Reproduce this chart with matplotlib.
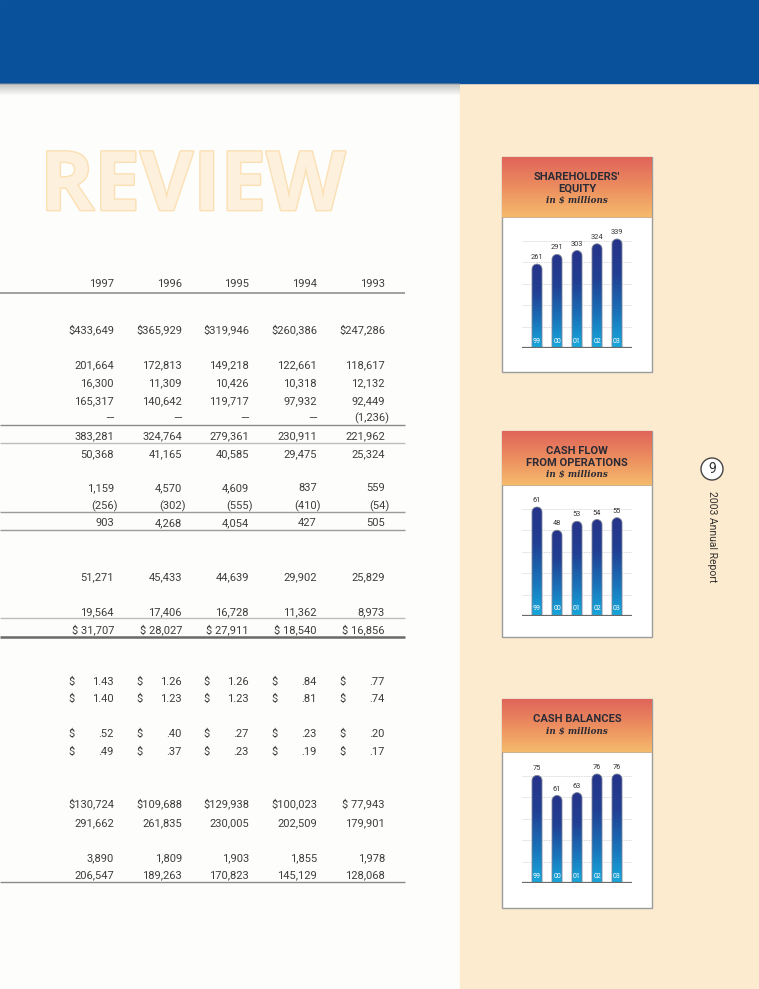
import numpy as np
import matplotlib.pyplot as plt
from matplotlib.patches import Rectangle, Circle, Polygon
from matplotlib.colors import LinearSegmentedColormap
import matplotlib.patheffects as pe

W, H = 759, 989

# table data (thousands, per-share in dollars)
years = ['1997', '1996', '1995', '1994', '1993']
net_sales = [433649, 365929, 319946, 260386, 247286]
cost_of_sales = [201664, 172813, 149218, 122661, 118617]
research = [16300, 11309, 10426, 10318, 12132]
selling_admin = [165317, 140642, 119717, 97932, 92449]
other_charges = [None, None, None, None, -1236]
total_costs = [383281, 324764, 279361, 230911, 221962]
operating_income = [50368, 41165, 40585, 29475, 25324]
interest_income = [1159, 4570, 4609, 837, 559]
interest_expense = [-256, -302, -555, -410, -54]
other_net = [903, 4268, 4054, 427, 505]
pretax_income = [51271, 45433, 44639, 29902, 25829]
income_taxes = [19564, 17406, 16728, 11362, 8973]
net_income = [31707, 28027, 27911, 18540, 16856]
eps_basic = [1.43, 1.26, 1.26, .84, .77]
eps_diluted = [1.40, 1.23, 1.23, .81, .74]
dividends_declared = [.52, .40, .27, .23, .20]
dividends_paid = [.49, .37, .23, .19, .17]
working_capital = [130724, 109688, 129938, 100023, 77943]
total_assets = [291662, 261835, 230005, 202509, 179901]
long_term_debt = [3890, 1809, 1903, 1855, 1978]
stock_equity = [206547, 189263, 170823, 145129, 128068]

# side charts ($ millions)
chart_years = ['99', '00', '01', '02', '03']
shareholders_equity = [261, 291, 303, 324, 339]
cash_flow_ops = [61, 48, 53, 54, 55]
cash_balances = [75, 61, 63, 76, 76]

TXT = '#3d3d3d'
FONT = 'Roboto'

fig = plt.figure(figsize=(W / 100, H / 100), dpi=100)
page = fig.add_axes([0, 0, 1, 1])
page.axis('off')

# page background
page.add_patch(Rectangle((0, 0), W, H, color='#fdfdfb', zorder=0))
page.add_patch(Rectangle((460, 83), W - 460, H - 83, color='#fdebcf', zorder=0))
page.add_patch(Rectangle((0, 0), W, 83, color='#0a519b', zorder=1))
shadow = np.zeros((20, 1, 4))
shadow[..., :3] = 0.55
shadow[:, 0, 3] = np.linspace(0.55, 0, 20)
page.imshow(shadow, extent=(0, 460, 96, 83), aspect='auto', zorder=1)

page.text(40, 210, 'REVIEW', fontsize=59, fontweight='bold', family='Open Sans',
          color='#fdf0dc', ha='left', va='baseline', zorder=1,
          path_effects=[pe.withStroke(linewidth=2, foreground='#fbe0b4')])

# ---- table ----
col_right = [114, 182, 249, 317, 385]


def fmt(v, style='plain'):
    if v is None:
        return '—'
    if style == 'eps':
        return f'{v:.2f}'.lstrip('0')
    s = f'{abs(v):,}'
    if v < 0:
        s = f'({s})'
    if style == 'dollar':
        s = ('$' if len(s) >= 7 else '$ ') + s
    elif style == 'dollar_sp':
        s = '$ ' + s
    return s


def table_row(y, values, style='plain'):
    for x, v in zip(col_right, values):
        s = fmt(v, style)
        hang = 4 if s.endswith(')') else 0
        page.text(x + hang, y + 4, s, ha='right', va='baseline', fontsize=8,
                  family=FONT, color=TXT)
        if style == 'eps':
            page.text(x - 46, y + 4, '$', ha='left', va='baseline', fontsize=8,
                      family=FONT, color=TXT)


def rule(y, color='#8c8c8c', lw=1.0):
    page.plot([0, 405], [y, y], color=color, lw=lw, solid_capstyle='butt', zorder=2)


for x, yr in zip(col_right, years):
    page.text(x, 287, yr, ha='right', va='baseline', fontsize=8, family=FONT, color=TXT)
rule(293, '#999999', 1.3)

table_row(329, net_sales, 'dollar')
table_row(364, cost_of_sales)
table_row(382, research)
table_row(400, selling_admin)
table_row(417, other_charges)
rule(425, '#8a8a8a', 1.0)
table_row(435, total_costs)
rule(443, '#bdbdbd', 1.0)
table_row(453, operating_income)
table_row(487, interest_income)
table_row(505, interest_expense)
rule(512, '#9a9a9a', 1.0)
table_row(522, other_net)
rule(530, '#9a9a9a', 1.0)
table_row(576, pretax_income)
table_row(611, income_taxes)
rule(618, '#bdbdbd', 1.0)
table_row(629, net_income, 'dollar_sp')
rule(637, '#6a6a6a', 1.8)
table_row(681, eps_basic, 'eps')
table_row(698, eps_diluted, 'eps')
table_row(733, dividends_declared, 'eps')
table_row(751, dividends_paid, 'eps')
table_row(803, working_capital, 'dollar')
table_row(822, total_assets)
table_row(857, long_term_debt)
table_row(874, stock_equity)
rule(882, '#8a8a8a', 1.0)

# ---- side panel ----
page.add_patch(Circle((712, 469), 11, fc='white', ec='#444444', lw=1.0, zorder=3))
page.text(712, 469, '9', ha='center', va='center', fontsize=10, family=FONT,
          color='#333333', zorder=4)
page.text(712, 537, '2003 Annual Report', rotation=270, ha='center', va='center',
          fontsize=7.5, family=FONT, color='#333333')

header_cmap = LinearSegmentedColormap.from_list('hdr', ['#e0655a', '#ec8d5f', '#f5ba6c'])
bar_cmap = LinearSegmentedColormap.from_list('bar', ['#15a8dc', '#1a70b8', '#213f93', '#26348a'])


def bar_chart(top, header_bottom, baseline, bottom, title_lines, values):
    left, right = 502, 652
    page.add_patch(Rectangle((left, top), right - left, bottom - top, fc='white',
                             ec='#9c9c9c', lw=1.0, zorder=2))
    grad = np.linspace(0, 1, 64).reshape(-1, 1)
    page.imshow(grad, cmap=header_cmap, extent=(left, right, header_bottom, top),
                aspect='auto', zorder=3)
    page.plot([left, right], [header_bottom, header_bottom], color='#c9a27a', lw=0.6, zorder=3)
    cx = (left + right) / 2
    ty = top + 20
    for k, line in enumerate(title_lines):
        page.text(cx, ty + 11.5 * k, line, ha='center', va='center', fontsize=8,
                  fontweight='bold', family=FONT, color='#2b2b36', zorder=4)
    page.text(cx, ty + 11.5 * len(title_lines) + 1, 'in $ millions', ha='center',
              va='center', fontsize=6.3, fontweight='bold', style='italic',
              family='DejaVu Serif', color='#2b2b36', zorder=4)

    ax = fig.add_axes([522 / W, 1 - baseline / H, 110 / W, (baseline - header_bottom) / H])
    ax.set_zorder(5)
    ax.patch.set_alpha(0)
    ax.axis('off')
    vmax = max(values)
    ppu = 109 / vmax
    for k in range(1, 6):
        ax.axhline(k * 21.4 / ppu, color='#cccccc', lw=0.6, ls=(0, (1, 1)), zorder=1)
    ry = 5 / ppu
    t = np.linspace(np.pi, 0, 24)
    for i, v in enumerate(values):
        x0, x1 = i - 0.25, i + 0.25
        arc = np.column_stack([i + 0.25 * np.cos(t), v - ry + ry * np.sin(t)])
        verts = np.vstack([[x0, 0], [x0, v - ry], arc, [x1, v - ry], [x1, 0]])
        poly = Polygon(verts, closed=True, fc='none', ec='#7d8596', lw=0.6, zorder=3)
        ax.add_patch(poly)
        im = ax.imshow(grad, cmap=bar_cmap, extent=(x0, x1, 0, v), origin='lower',
                       aspect='auto', zorder=2)
        im.set_clip_path(poly)
        ax.text(i, v + 3 / ppu, str(v), ha='center', va='bottom', fontsize=5.3,
                family=FONT, color='#333333')
        ax.text(i, 7 / ppu, chart_years[i], ha='center', va='center', fontsize=5,
                family=FONT, color='white')
    ax.set_xlim(-0.75, 4.75)
    ax.set_ylim(0, (baseline - header_bottom) / ppu)
    ax.axhline(0, color='#6a6a6a', lw=1.6, zorder=4)


bar_chart(157, 217, 348, 372, ["SHAREHOLDERS'", 'EQUITY'], shareholders_equity)
bar_chart(431, 485, 616, 637, ['CASH FLOW', 'FROM OPERATIONS'], cash_flow_ops)
bar_chart(699, 752, 883, 908, ['CASH BALANCES'], cash_balances)

page.set_xlim(0, W)
page.set_ylim(H, 0)
fig.savefig('out.png', dpi=100)
